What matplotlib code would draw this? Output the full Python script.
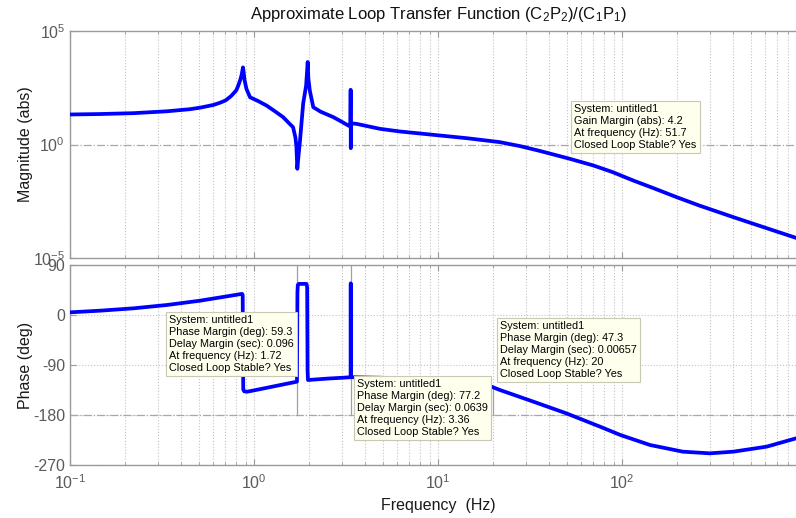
import math
import matplotlib
matplotlib.use("Agg")
import matplotlib.pyplot as plt
from matplotlib.ticker import (LogLocator, NullFormatter, FixedLocator, NullLocator,
                               FuncFormatter)

# ---------------- data ----------------
mag_freq_hz = [0.1, 0.146, 0.221, 0.336, 0.45, 0.51, 0.6, 0.65, 0.7, 0.75, 0.8, 0.82,
               0.84, 0.855, 0.865, 0.871, 0.878, 0.888, 0.91, 0.952, 1.05, 1.17,
               1.3, 1.44, 1.55, 1.63, 1.68, 1.70, 1.72, 1.74, 1.78, 1.85, 1.92,
               1.958, 1.975, 2.01, 2.1, 2.3, 2.7, 3.0, 3.25, 3.34, 3.352, 3.358,
               3.366, 3.4, 3.61, 4.84, 6.22, 9.43, 14.3, 21.7, 27.9, 35.8, 52,
               69.9, 89.3, 115, 148, 198, 263, 403, 611, 883]
mag_abs = [21, 22, 24, 29, 36, 42, 55, 68, 87, 135, 240, 380,
           660, 1100, 1800, 2500, 1600, 700, 280, 120, 83, 52,
           29, 16, 8.7, 5.8, 2.0, 0.8, 0.085, 0.25, 1.6, 63, 400,
           4300, 800, 240, 44, 28, 16, 10, 6.9, 6.3, 257, 0.69,
           6.5, 8.5, 8.1, 4.9, 3.74, 2.67, 1.90, 1.27, 0.85, 0.52, 0.235,
           0.119, 0.060, 0.026, 0.012, 0.0048, 0.00205, 6.3e-4, 2.06e-4, 7.7e-5]

phase_freq_hz = [0.1, 0.146, 0.221, 0.336, 0.51, 0.77, 0.84, 0.862, 0.868, 0.874,
                 0.885, 0.92, 1.0, 1.3, 1.712, 1.722, 1.73, 1.75, 1.93, 1.945,
                 1.955, 1.965, 2.5, 3.0, 3.35, 3.356, 3.362, 3.4, 5, 8, 12, 18.5,
                 21.7, 33, 49.8, 76, 98, 142, 214, 300, 403, 611, 883]
phase_deg = [4.8, 7.8, 12, 18, 25.8, 35.4, 37.5, 38, 36, -134,
             -137.5, -138, -135.7, -128, -120, 40, 54, 56, 56, 50,
             -100, -117, -114.5, -113, -112, 57, -112, -112, -113, -116, -120, -126,
             -135, -156, -177, -201, -216, -234, -246, -249, -246, -237, -222]

mag_ticks = [1e-5, 1e0, 1e5]
phase_ticks = [-270, -180, -90, 0, 90]
freq_ticks = [0.1, 1, 10, 100, 1000]

title_text = r"Approximate Loop Transfer Function (C$\mathregular{_2}$P$\mathregular{_2}$)/(C$\mathregular{_1}$P$\mathregular{_1}$)"

tip_gain = ["System: untitled1", "Gain Margin (abs): 4.2",
            "At frequency (Hz): 51.7", "Closed Loop Stable? Yes"]
tip_pm1 = ["System: untitled1", "Phase Margin (deg): 59.3", "Delay Margin (sec): 0.096",
           "At frequency (Hz): 1.72", "Closed Loop Stable? Yes"]
tip_pm2 = ["System: untitled1", "Phase Margin (deg): 77.2", "Delay Margin (sec): 0.0639",
           "At frequency (Hz): 3.36", "Closed Loop Stable? Yes"]
tip_pm3 = ["System: untitled1", "Phase Margin (deg): 47.3", "Delay Margin (sec): 0.00657",
           "At frequency (Hz): 20", "Closed Loop Stable? Yes"]
pm_freqs = [1.72, 3.36, 20]
pm_phase = [90, 90, -132.7]

# ---------------- style ----------------
plt.rcParams['font.family'] = ['Liberation Sans', 'DejaVu Sans']
plt.rcParams['mathtext.fontset'] = 'custom'
plt.rcParams['mathtext.rm'] = 'Liberation Sans'
plt.rcParams['mathtext.default'] = 'regular'
plt.rcParams['axes.unicode_minus'] = False

W, H = 796, 518
fig = plt.figure(figsize=(W / 100, H / 100), dpi=100)

axcol = '#9a9a9a'
tickcol = '#5a5a5a'
gridcol = '#c4c4c4'
blue = '#0000ff'

def px_axes(x0, y0, x1, y1):
    return fig.add_axes([x0 / W, 1 - y1 / H, (x1 - x0) / W, (y1 - y0) / H])

ax1 = px_axes(70, 31, 806, 258)
ax2 = px_axes(70, 265, 806, 465)

def pow_label(v):
    e = int(round(math.log10(v)))
    return r'$\mathregular{10^{%s}}$' % (('-%d' % -e) if e < 0 else str(e))

def freq_fmt(v, pos):
    return '' if v > 500 else pow_label(v)

def mag_fmt(v, pos):
    return pow_label(v)

for ax in (ax1, ax2):
    ax.set_xscale('log')
    ax.set_xlim(0.1, 1000)
    for s in ax.spines.values():
        s.set_color(axcol)
        s.set_linewidth(1.0)
    ax.tick_params(which='both', direction='in', colors=axcol, top=True, right=True,
                   labelcolor=tickcol, labelsize=11.5)
    ax.tick_params(which='major', length=4)
    ax.tick_params(which='minor', length=2)
    ax.tick_params(axis='x', pad=6)
    ax.xaxis.set_major_locator(FixedLocator(freq_ticks))
    ax.xaxis.set_major_formatter(FuncFormatter(freq_fmt))
    ax.xaxis.set_minor_locator(LogLocator(base=10, subs=range(2, 10), numticks=20))
    ax.xaxis.set_minor_formatter(NullFormatter())
    ax.grid(True, which='both', axis='x', linestyle=':', color=gridcol, linewidth=0.8)
    ax.set_axisbelow(True)

# magnitude
ax1.set_yscale('log')
ax1.set_ylim(1e-5, 1e5)
ax1.yaxis.set_major_locator(FixedLocator(mag_ticks))
ax1.yaxis.set_major_formatter(FuncFormatter(mag_fmt))
ax1.yaxis.set_minor_locator(NullLocator())
ax1.tick_params(axis='x', labelbottom=False)
ax1.axhline(1.0, color='#a8a8a8', linestyle='-.', linewidth=0.9, zorder=1)
ax1.plot(mag_freq_hz, mag_abs, color=blue, linewidth=2.7, zorder=3)
ax1.set_ylabel('Magnitude (abs)', fontsize=11.5, color='#1a1a1a')
ax1.yaxis.set_label_coords(-0.0503, 0.5)
ax1.set_title(title_text, fontsize=12, color='#111111', pad=9)

# phase
ax2.set_ylim(-270, 90)
ax2.yaxis.set_major_locator(FixedLocator(phase_ticks))
ax2.yaxis.set_minor_locator(NullLocator())
ax2.grid(True, which='major', axis='y', linestyle=':', color=gridcol, linewidth=0.8)
ax2.axhline(-180, color='#a8a8a8', linestyle='-.', linewidth=0.9, zorder=1)
for f, p in zip(pm_freqs, pm_phase):
    ax2.plot([f, f], [-180, p], color='#a0a0a0', linewidth=0.9, zorder=2)
ax2.plot(phase_freq_hz, phase_deg, color=blue, linewidth=2.7, zorder=3)
ax2.set_ylabel('Phase (deg)', fontsize=11.5, color='#1a1a1a')
ax2.yaxis.set_label_coords(-0.0503, 0.5)
ax2.set_xlabel('Frequency  (Hz)', fontsize=11.5, color='#1a1a1a', labelpad=4)

# datatips (positions in reference pixels: top-left of box)
def tip(lines, x, y):
    fig.text((x + 3) / W, 1 - (y + 3) / H, "\n".join(lines), fontsize=7.8,
             color='#000000', ha='left', va='top', linespacing=1.25,
             bbox=dict(boxstyle='square,pad=0.3', facecolor='#ffffee',
                       edgecolor='#c8c8b4', linewidth=0.8), zorder=10)

tip(tip_gain, 571, 101)
tip(tip_pm1, 166, 312)
tip(tip_pm2, 354, 376)
tip(tip_pm3, 497, 318)

fig.savefig('out.png', dpi=100)
